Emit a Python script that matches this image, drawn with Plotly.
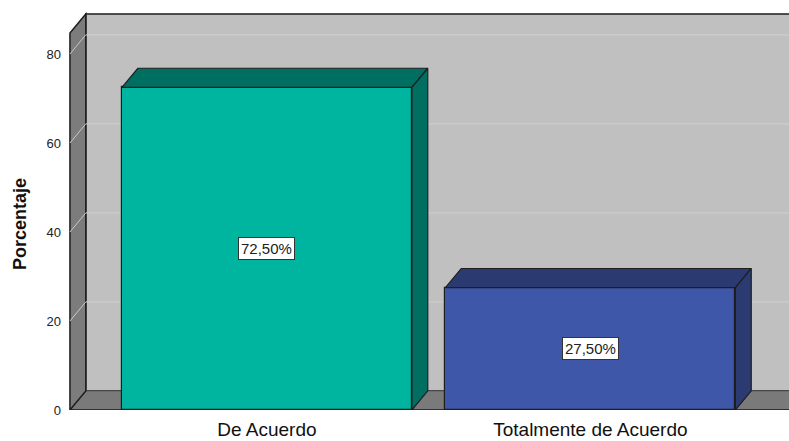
import plotly.graph_objects as go

# ---- data ----
categories = ["De Acuerdo", "Totalmente de Acuerdo"]
values = [72.5, 27.5]
labels = ["72,50%", "27,50%"]
y_ticks = [0, 20, 40, 60, 80]
front_colors = ["#00b5a0", "#3f57a9"]
dark_colors = ["#006e60", "#2b3b72"]

# ---- geometry (axis units) ----
X_MIN, X_MAX = -0.615, 1.614
Y_MIN, Y_MAX = 0, 89.44
WALL_X = -0.609          # front edge of left wall
WALL_TOP = 84.7          # wall height (front)
DX = 0.049               # depth offset in x units
DY = 4.3                 # depth offset in y units
BAR_W = 0.8965
EDGE = "#1e1e1e"
FONT = "Liberation Sans, Arial"

fig = go.Figure()

shapes = []
# back wall
shapes.append(dict(type="rect", xref="x", yref="y", layer="below",
                   x0=WALL_X + DX, x1=X_MAX + 0.1, y0=DY, y1=WALL_TOP + DY,
                   fillcolor="#c0c0c0", line=dict(color=EDGE, width=1.5)))
# floor
shapes.append(dict(type="path", xref="x", yref="y", layer="below",
                   path=f"M {WALL_X},0 L {X_MAX+0.1},0 L {X_MAX+0.1},{DY} L {WALL_X+DX},{DY} Z",
                   fillcolor="#7a7a7a", line=dict(color="#555555", width=1)))
# left wall
shapes.append(dict(type="path", xref="x", yref="y", layer="below",
                   path=f"M {WALL_X},0 L {WALL_X},{WALL_TOP} L {WALL_X+DX},{WALL_TOP+DY} L {WALL_X+DX},{DY} Z",
                   fillcolor="#7c7c7c", line=dict(color=EDGE, width=1.5)))
# gridlines on back wall and left wall
for t in y_ticks[1:]:
    shapes.append(dict(type="line", xref="x", yref="y", layer="below",
                       x0=WALL_X + DX, x1=X_MAX + 0.1, y0=t + DY, y1=t + DY,
                       line=dict(color="#d0d0d0", width=1)))
    shapes.append(dict(type="line", xref="x", yref="y", layer="below",
                       x0=WALL_X, x1=WALL_X + DX, y0=t, y1=t + DY,
                       line=dict(color="#c8c8c8", width=1)))
# floor front edge
shapes.append(dict(type="line", xref="x", yref="y", layer="below",
                   x0=WALL_X, x1=X_MAX + 0.1, y0=0, y1=0,
                   line=dict(color=EDGE, width=1.5)))

# front faces
fig.add_trace(go.Bar(x=list(range(len(categories))), y=values, width=BAR_W,
                     marker=dict(color=front_colors, line=dict(color=EDGE, width=1.2)),
                     hoverinfo="skip", showlegend=False))

# top and side faces
for i, v in enumerate(values):
    xl, xr = i - BAR_W / 2, i + BAR_W / 2
    fig.add_trace(go.Scatter(
        x=[xl, xr, xr + DX, xl + DX, xl], y=[v, v, v + DY, v + DY, v],
        mode="lines", fill="toself", fillcolor=dark_colors[i],
        line=dict(color=EDGE, width=1.2), hoverinfo="skip", showlegend=False))
    fig.add_trace(go.Scatter(
        x=[xr, xr + DX, xr + DX, xr, xr], y=[0, DY, v + DY, v, 0],
        mode="lines", fill="toself", fillcolor=dark_colors[i],
        line=dict(color=EDGE, width=1.2), hoverinfo="skip", showlegend=False))

annotations = []
for i, v in enumerate(values):
    annotations.append(dict(x=i, y=v / 2, xref="x", yref="y", text=labels[i],
                            showarrow=False, bgcolor="white", bordercolor="#333333",
                            borderwidth=1, borderpad=2,
                            font=dict(family=FONT, size=15, color="#222222")))
annotations.append(dict(x=-0.0666, y=0.467, xref="paper", yref="paper",
                        xanchor="center", yanchor="middle",
                        text="<b>Porcentaje</b>", textangle=-90, showarrow=False,
                        font=dict(family=FONT, size=18, color="#111111")))

fig.update_layout(
    width=789, height=441,
    margin=dict(l=68, r=0, t=12, b=31),
    paper_bgcolor="white", plot_bgcolor="white",
    shapes=shapes, annotations=annotations,
    bargap=0,
    xaxis=dict(range=[X_MIN, X_MAX], tickvals=list(range(len(categories))), ticktext=categories,
               showgrid=False, zeroline=False, showline=False, ticks="",
               ticklabelstandoff=6,
               tickfont=dict(family=FONT, size=19, color="#111111")),
    yaxis=dict(range=[Y_MIN, Y_MAX], tickvals=y_ticks, showgrid=False, zeroline=False,
               showline=False, ticks="", ticklabelstandoff=6,
               tickfont=dict(family=FONT, size=13, color="#222222")),
)
fig.write_html("out.html", config={"displayModeBar": False},
               post_script="document.body.style.margin='0';document.body.style.overflow='hidden';")
